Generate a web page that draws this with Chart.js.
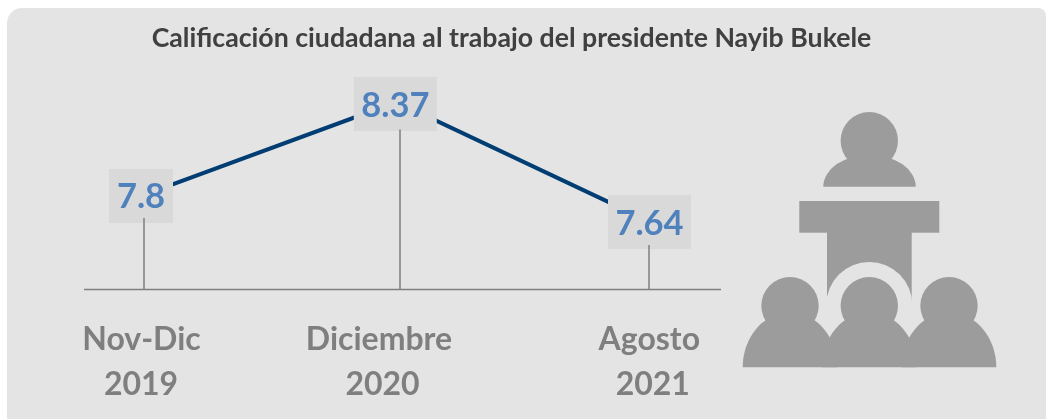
<!DOCTYPE html>
<html>
<head>
<meta charset="utf-8">
<script src="https://cdn.jsdelivr.net/npm/chart.js@4"></script>
<style>
html, body { margin: 0; padding: 0; background: #fff; overflow: hidden; }
#wrap { position: relative; width: 1046px; height: 419px; overflow: hidden; }
#panel { position: absolute; left: 7px; top: 8px; width: 1039px; height: 425px; background: #e4e4e4; border-radius: 15px 8px 0 0; }
#icon { position: absolute; left: 0; top: 0; }
canvas { position: absolute; left: 0; top: 0; }
</style>
</head>
<body>
<div id="wrap">
  <div id="panel"></div>
  <svg id="icon" width="1046" height="419" fill="#9c9c9c">
    <circle cx="869.3" cy="140.7" r="28.7"/>
    <path d="M823.3 186.7 A46.2 32 0 0 1 915.7 186.7 Z"/>
    <rect x="799.3" y="201" width="140" height="31.7"/>
    <rect x="827" y="232" width="84.7" height="70"/>
    <circle cx="869.3" cy="305" r="43" fill="#e4e4e4"/>
    <rect x="780" y="340" width="180" height="40" fill="#e4e4e4"/>
    <path d="M742.7 367.3 A47.3 55 0 0 1 837.3 367.3 Z"/>
    <path d="M822 367.3 A47.3 55 0 0 1 916.6 367.3 Z"/>
    <path d="M901.7 367.3 A47.3 55 0 0 1 996.3 367.3 Z"/>
    <circle cx="790" cy="305.7" r="28.7"/>
    <circle cx="869.3" cy="305.7" r="28.7"/>
    <circle cx="949" cy="305.7" r="28.7"/>
  </svg>
  <canvas id="rating" width="1046" height="419"></canvas>
</div>
<script>
const chartTitle = 'Calificación ciudadana al trabajo del presidente Nayib Bukele';
const months = ['Nov-Dic', 'Diciembre', 'Agosto'];
const years = ['2019', '2020', '2021'];
const ratings = [7.8, 8.37, 7.64];
const ratingLabels = ['7.8', '8.37', '7.64'];

// hand placed bits of the original slide, relative to each point
const stemShift = [0, 3.5, 0];
const stemGap = [23, 27.5, 24];
const boxSize = [[64, 54], [83, 54], [83, 54]];
const boxShift = [[-3, 1], [-1.2, 2], [0.5, 1]];
const monthShift = [-2.5, -17.5, 0.3];
const yearShift = [-3, -14, 3.8];

const slideParts = {
    id: 'slideParts',
    afterDatasetsDraw(chart) {
        const ctx = chart.ctx;
        const x = chart.scales.x;
        const y = chart.scales.y;
        const base = y.bottom;
        ctx.save();

        // baseline and stems
        ctx.strokeStyle = '#7f7f7f';
        ctx.lineWidth = 1.5;
        ctx.beginPath();
        ctx.moveTo(x.left - 60, base);
        ctx.lineTo(x.right + 72, base);
        ctx.stroke();

        ratings.forEach((v, i) => {
            const px = x.getPixelForValue(i);
            const py = y.getPixelForValue(v);

            ctx.fillStyle = '#d9d9d9';
            const w = boxSize[i][0];
            const h = boxSize[i][1];
            ctx.fillRect(px + boxShift[i][0] - w / 2, py + boxShift[i][1] - h / 2, w, h);

            ctx.beginPath();
            ctx.moveTo(px + stemShift[i], py + stemGap[i]);
            ctx.lineTo(px + stemShift[i], base);
            ctx.stroke();

            ctx.fillStyle = '#4f81bd';
            ctx.font = '700 34.5px Lato';
            ctx.textAlign = 'center';
            ctx.textBaseline = 'alphabetic';
            ctx.fillText(ratingLabels[i], px + boxShift[i][0], py + boxShift[i][1] + 12.5);

            ctx.fillStyle = '#7f7f7f';
            ctx.font = '700 32px Lato';
            ctx.fillText(months[i], px + monthShift[i], 349.5);
            ctx.fillText(years[i], px + yearShift[i], 394.5);
        });

        ctx.fillStyle = '#404040';
        ctx.font = '700 26.7px Lato';
        ctx.fillText(chartTitle, 511.5, 47);
        ctx.restore();
    }
};

new Chart(document.getElementById('rating').getContext('2d'), {
    type: 'line',
    data: {
        labels: months.map((m, i) => m + ' ' + years[i]),
        datasets: [{
            label: 'Calificación',
            data: ratings,
            borderColor: '#003d73',
            borderWidth: 4,
            pointRadius: 0,
            tension: 0
        }]
    },
    options: {
        responsive: false,
        animation: false,
        layout: { padding: { left: 144, right: 397, top: 64.5, bottom: 129.4 } },
        plugins: {
            legend: { display: false },
            tooltip: { enabled: false }
        },
        scales: {
            x: { display: false },
            y: { display: false, min: 7.22, max: 8.6 }
        }
    },
    plugins: [slideParts]
});
</script>
</body>
</html>
